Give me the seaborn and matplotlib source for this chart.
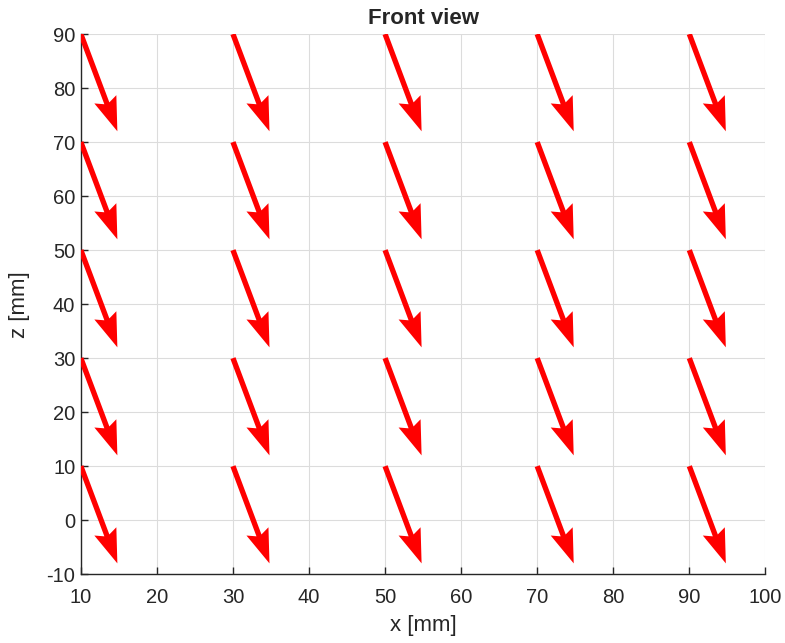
import numpy as np
import matplotlib
matplotlib.use("Agg")
import matplotlib.pyplot as plt
import seaborn as sns

# arrow origins and components
x_pos = [10, 30, 50, 70, 90]
z_pos = [90, 70, 50, 30, 10]
u_comp = 4.8
w_comp = -18.0

sns.set_style("whitegrid")
plt.rcParams['font.family'] = ['Liberation Sans', 'DejaVu Sans']
plt.rcParams['axes.unicode_minus'] = False

X, Z = np.meshgrid(x_pos, z_pos)
U = np.full(X.shape, u_comp)
W = np.full(X.shape, w_comp)

fig = plt.figure(figsize=(7.85, 6.43), dpi=100)
ax = fig.add_axes([0.103, 0.107, 0.872, 0.840])

ax.quiver(X, Z, U, W, angles="xy", scale_units="xy", scale=1,
          color="#ff0000", width=0.0078, headwidth=4.4, headlength=6.4,
          headaxislength=5.6, zorder=3)

ax.set_xlim(10, 100)
ax.set_ylim(-10, 90)
ax.set_xticks(np.arange(10, 101, 10))
ax.set_yticks(np.arange(-10, 91, 10))
ax.grid(True, color="#dcdcdc", linewidth=0.8)
for s in ["top", "right"]:
    ax.spines[s].set_visible(False)
for s in ["left", "bottom"]:
    ax.spines[s].set_color("#262626")
    ax.spines[s].set_linewidth(1.0)
ax.tick_params(axis="both", direction="in", length=5, width=1, colors="#262626",
               labelsize=14.5, left=True, bottom=True)
ax.tick_params(axis="x", pad=10)
ax.tick_params(axis="y", pad=4)
ax.set_xlabel("x [mm]", fontsize=16, color="#262626", labelpad=6)
ax.set_ylabel("z [mm]", fontsize=16, color="#262626", labelpad=12)
ax.set_title("Front view", fontsize=16, fontweight="bold", pad=7)

fig.savefig("out.png", dpi=100, facecolor="white")
